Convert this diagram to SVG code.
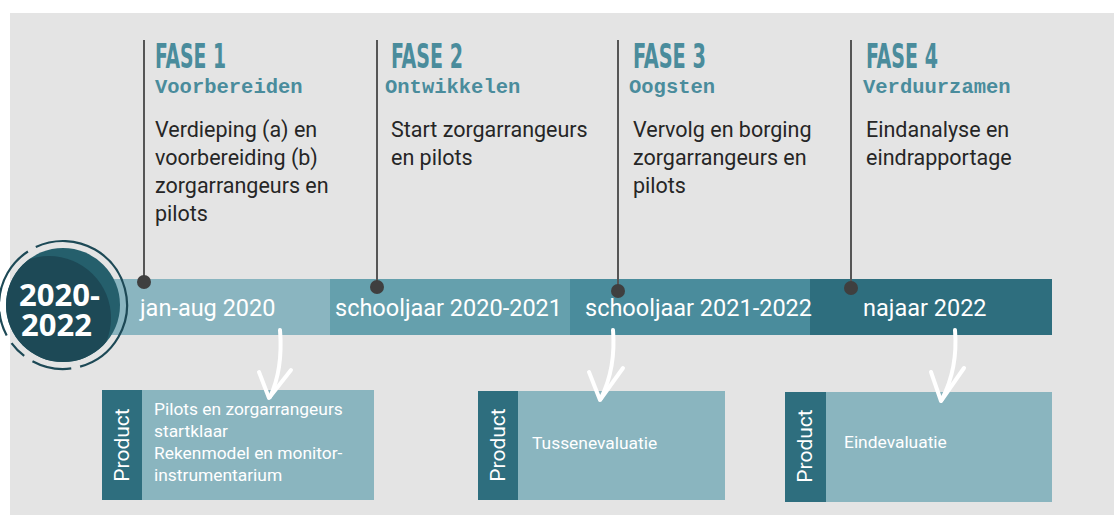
<svg xmlns="http://www.w3.org/2000/svg" width="1114" height="515" viewBox="0 0 1114 515">
  <style>
    .fase{font-family:"Liberation Sans Narrow","DejaVu Sans Condensed","Liberation Sans",sans-serif;font-weight:bold;font-size:34px;fill:#4a8c9c}
    .sub{font-family:"Liberation Mono","DejaVu Sans Mono",monospace;font-weight:bold;font-size:20.5px;fill:#4a8c9c}
    .body{font-family:Roboto,"Liberation Sans",sans-serif;font-size:21.5px;fill:#262626}
    .band{font-family:Roboto,"Liberation Sans",sans-serif;font-size:23.5px;fill:#ffffff}
    .prod{font-family:Roboto,"Liberation Sans",sans-serif;font-size:21px;fill:#ffffff}
    .ptxt{font-family:Roboto,"Liberation Sans",sans-serif;font-size:17.4px;fill:#ffffff}
    .year{font-family:"Open Sans","Liberation Sans",sans-serif;font-weight:bold;font-size:31px;fill:#ffffff}
    .vline{stroke:#555555;stroke-width:2;fill:none}
    .dot{fill:#3f3f3f}
    .arrow{stroke:#ffffff;stroke-width:4;fill:none;stroke-linecap:round;stroke-linejoin:round}
    .tab{fill:#2e6e7e}
    .box{fill:#8ab5bf}
  </style>
  <defs>
    <clipPath id="circClip"><circle cx="63" cy="305" r="57"/></clipPath>
  </defs>
  <rect x="10" y="13" width="1104" height="502" fill="#e4e4e4"/>

  <g id="timeline">
    <rect x="100" y="279" width="230" height="56" fill="#8ab5c0"/>
    <rect x="330" y="279" width="240" height="56" fill="#65a0ad"/>
    <rect x="570" y="279" width="240" height="56" fill="#4a8c9c"/>
    <rect x="810" y="279" width="242" height="56" fill="#2e6e7e"/>
    <text class="band" x="140" y="316">jan-aug 2020</text>
    <text class="band" x="335" y="316">schooljaar 2020-2021</text>
    <text class="band" x="585" y="316">schooljaar 2021-2022</text>
    <text class="band" x="863" y="316">najaar 2022</text>
  </g>

  <g id="connectors">
    <line class="vline" x1="144" y1="40" x2="144" y2="282"/>
    <line class="vline" x1="377" y1="40" x2="377" y2="287"/>
    <line class="vline" x1="618" y1="40" x2="618" y2="291"/>
    <line class="vline" x1="851" y1="40" x2="851" y2="288"/>
    <circle class="dot" cx="144" cy="282" r="7"/>
    <circle class="dot" cx="377" cy="287" r="7"/>
    <circle class="dot" cx="618" cy="291" r="7"/>
    <circle class="dot" cx="851" cy="288" r="7"/>
  </g>

  <g id="year-badge">
    <circle cx="63" cy="305" r="57" fill="#255f6c"/>
    <circle cx="49" cy="318" r="62" fill="#1d4956" clip-path="url(#circClip)"/>
    <circle cx="63" cy="305" r="64" fill="none" stroke="#1d4956" stroke-width="2.2" stroke-dasharray="150 9 40 10 18 9 25 10 60 9" transform="rotate(-60 63 305)"/>
    <text class="year"><tspan x="19" y="306">2020-</tspan><tspan x="21" y="336">2022</tspan></text>
  </g>

  <g id="fase1">
    <text class="fase" x="155" y="68" textLength="71" lengthAdjust="spacingAndGlyphs">FASE 1</text>
    <text class="sub" x="155" y="93">Voorbereiden</text>
    <text class="body" x="155" y="137">Verdieping (a) en</text>
    <text class="body" x="155" y="165">voorbereiding (b)</text>
    <text class="body" x="155" y="193">zorgarrangeurs en</text>
    <text class="body" x="155" y="221">pilots</text>
  </g>
  <g id="fase2">
    <text class="fase" x="391" y="68" textLength="72" lengthAdjust="spacingAndGlyphs">FASE 2</text>
    <text class="sub" x="385" y="93">Ontwikkelen</text>
    <text class="body" x="391" y="137">Start zorgarrangeurs</text>
    <text class="body" x="391" y="165">en pilots</text>
  </g>
  <g id="fase3">
    <text class="fase" x="633" y="68" textLength="73" lengthAdjust="spacingAndGlyphs">FASE 3</text>
    <text class="sub" x="629" y="93">Oogsten</text>
    <text class="body" x="633" y="137">Vervolg en borging</text>
    <text class="body" x="633" y="165">zorgarrangeurs en</text>
    <text class="body" x="633" y="193">pilots</text>
  </g>
  <g id="fase4">
    <text class="fase" x="866" y="68" textLength="72" lengthAdjust="spacingAndGlyphs">FASE 4</text>
    <text class="sub" x="863" y="93">Verduurzamen</text>
    <text class="body" x="866" y="137">Eindanalyse en</text>
    <text class="body" x="866" y="165">eindrapportage</text>
  </g>

  <g id="product1">
    <rect class="box" x="142" y="390" width="232" height="110"/>
    <rect class="tab" x="102" y="390" width="40" height="110"/>
    <text class="prod" transform="translate(129 445) rotate(-90)" text-anchor="middle">Product</text>
    <text class="ptxt" x="154" y="415">Pilots en zorgarrangeurs</text>
    <text class="ptxt" x="154" y="437">startklaar</text>
    <text class="ptxt" x="154" y="459">Rekenmodel en monitor-</text>
    <text class="ptxt" x="154" y="481">instrumentarium</text>
  </g>
  <g id="product2">
    <rect class="box" x="518" y="391" width="207" height="109"/>
    <rect class="tab" x="478" y="391" width="40" height="109"/>
    <text class="prod" transform="translate(505 445) rotate(-90)" text-anchor="middle">Product</text>
    <text class="ptxt" x="532" y="449">Tussenevaluatie</text>
  </g>
  <g id="product3">
    <rect class="box" x="826" y="392" width="226" height="110"/>
    <rect class="tab" x="785" y="392" width="41" height="110"/>
    <text class="prod" transform="translate(812 446) rotate(-90)" text-anchor="middle">Product</text>
    <text class="ptxt" x="844" y="448">Eindevaluatie</text>
  </g>

  <g id="arrows">
    <path class="arrow" d="M280,330 C282,355 279,378 270,397"/>
    <path class="arrow" d="M259,372 L269,398 L291,370"/>
    <path class="arrow" d="M613,330 C615,355 611,378 601,398"/>
    <path class="arrow" d="M589,372 L600,400 L623,368"/>
    <path class="arrow" d="M955,330 C957,355 953,378 942,399"/>
    <path class="arrow" d="M931,372 L941,401 L964,368"/>
  </g>
</svg>
